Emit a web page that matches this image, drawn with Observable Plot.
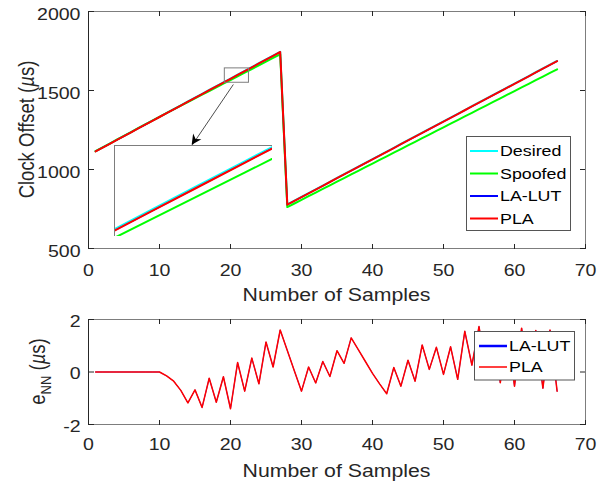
<!DOCTYPE html>
<html><head><meta charset="utf-8">
<script src="https://cdn.jsdelivr.net/npm/d3@7"></script>
<script src="https://cdn.jsdelivr.net/npm/@observablehq/plot@0.6"></script>
<style>
body{margin:0;background:#fff;}
#chart{position:relative;width:597px;height:483px;overflow:hidden;background:#fff;}
#chart svg{display:block;}
</style></head><body><div id="chart"></div>
<script>
// ---------- data ----------
const samples = [1,2,3,4,5,6,7,8,9,10,11,12,13,14,15,16,17,18,19,20,21,22,23,24,25,26,27,28,29,30,31,32,33,34,35,36,37,38,39,40,41,42,43,44,45,46,47,48,49,50,51,52,53,54,55,56,57,58,59,60,61,62,63,64,65,66];
const desired = [1116.0,1140.2,1164.4,1188.6,1212.8,1237.0,1261.2,1285.4,1309.6,1333.8,1358.0,1382.2,1406.4,1430.6,1454.8,1479.0,1503.2,1527.4,1551.6,1575.8,1600.0,1624.2,1648.4,1672.6,1696.8,1721.0,1745.2,
  779.0,802.9,826.8,850.7,874.6,898.5,922.4,946.3,970.2,994.1,1018.0,1041.9,1065.8,1089.7,1113.6,1137.5,1161.4,1185.3,1209.2,1233.1,1257.0,1280.9,1304.8,1328.7,1352.6,1376.5,1400.4,1424.3,1448.2,1472.1,1496.0,1519.9,1543.8,1567.7,1591.6,1615.5,1639.4,1663.3,1687.2];
const spoofed = [1116.0,1140.2,1164.4,1188.6,1212.8,1237.0,1261.2,1285.4,1309.6,1333.8,1357.0,1380.3,1403.6,1426.8,1450.1,1473.3,1496.6,1519.8,1543.1,1566.3,1589.6,1612.8,1636.1,1659.3,1682.6,1705.8,1729.1,
  761.9,784.9,807.8,830.8,853.7,876.7,899.6,922.6,945.5,968.5,991.4,1014.4,1037.3,1060.3,1083.2,1106.2,1129.1,1152.1,1175.0,1198.0,1220.9,1243.9,1266.8,1289.8,1312.7,1335.7,1358.6,1381.6,1404.5,1427.5,1450.4,1473.4,1496.3,1519.3,1542.2,1565.2,1588.1,1611.1,1634.0];
const laLut = [1114.5,1138.7,1162.9,1187.1,1211.3,1235.5,1259.7,1283.9,1308.1,1332.3,1356.5,1380.7,1404.9,1429.1,1453.3,1477.5,1501.7,1525.9,1550.1,1574.3,1598.5,1622.7,1646.9,1671.1,1695.3,1719.5,1743.7,
  777.5,801.4,825.3,849.2,873.1,897.0,920.9,944.8,968.7,992.6,1016.5,1040.4,1064.3,1088.2,1112.1,1136.0,1159.9,1183.8,1207.7,1231.6,1255.5,1279.4,1303.3,1327.2,1351.1,1375.0,1398.9,1422.8,1446.7,1470.6,1494.5,1518.4,1542.3,1566.2,1590.1,1614.0,1637.9,1661.8,1685.7];
const pla = [1114.5,1138.7,1162.9,1187.1,1211.3,1235.5,1259.7,1283.9,1308.1,1332.3,1356.5,1380.7,1404.9,1429.1,1453.3,1477.5,1501.7,1525.9,1550.1,1574.3,1598.5,1622.7,1646.9,1671.1,1695.3,1719.5,1743.7,
  777.5,801.4,825.3,849.2,873.1,897.0,920.9,944.8,968.7,992.6,1016.5,1040.4,1064.3,1088.2,1112.1,1136.0,1159.9,1183.8,1207.7,1231.6,1255.5,1279.4,1303.3,1327.2,1351.1,1375.0,1398.9,1422.8,1446.7,1470.6,1494.5,1518.4,1542.3,1566.2,1590.1,1614.0,1637.9,1661.8,1685.7];
const errLaLut = [0,0,0,0,0,0,0,0,0,0,-0.15,-0.35,-0.7,-1.18,-0.68,-1.35,-0.24,-1.15,-0.18,-1.4,0.36,-0.73,0.53,-0.45,1.14,0.19,1.6,0.82,0.04,-0.73,0.19,-0.42,0.4,-0.17,0.81,0.33,1.3,0.85,0.4,-0.05,-0.45,-0.83,0.17,-0.54,0.45,-0.35,1.03,0.1,0.94,-0.09,0.96,-0.28,1.55,0.26,1.73,0.1,1.5,-0.41,1.5,-0.54,1.67,-0.2,1.58,-0.62,1.6,-0.73];
const errPla = [0,0,0,0,0,0,0,0,0,0,-0.15,-0.35,-0.7,-1.18,-0.68,-1.35,-0.24,-1.15,-0.18,-1.4,0.36,-0.73,0.53,-0.45,1.14,0.19,1.6,0.82,0.04,-0.73,0.19,-0.42,0.4,-0.17,0.81,0.33,1.3,0.85,0.4,-0.05,-0.45,-0.83,0.17,-0.54,0.45,-0.35,1.03,0.1,0.94,-0.09,0.96,-0.28,1.55,0.26,1.73,0.1,1.5,-0.41,1.5,-0.54,1.67,-0.2,1.58,-0.62,1.6,-0.73];

const topSeries = ["Desired", "Spoofed", "LA-LUT", "PLA"];
const bottomSeries = ["LA-LUT", "PLA"];
const xTicks = [0, 10, 20, 30, 40, 50, 60, 70];
const yTicksTop = [500, 1000, 1500, 2000];
const yTicksBottom = [-2, 0, 2];
const xLabel = "Number of Samples";

// zoom annotation (data units)
const zoomX = [19.2, 22.6];
const zoomY = [1549, 1640];
const insetX = [3.66, 25.9];
const insetY = [576, 1154];
const arrowFrom = [20.4, 1538];
const arrowTo = [14.6, 1154];

// ---------- styles ----------
const FONT = "'Liberation Sans', Arial, Helvetica, sans-serif";
const INK = "#262626";
const BOX = "#7d7d7d";
const K = 1.15; // horizontal glyph stretch of the original bitmap
const colorOf = {"Desired": "#00ffff", "Spoofed": "#00ff00", "LA-LUT": "#0000ff", "PLA": "#ff0000"};
const topWidth = {"Desired": 2, "Spoofed": 2, "LA-LUT": 1.2, "PLA": 2};
const botWidth = {"LA-LUT": 0.8, "PLA": 1.5};

const topRows = [];
[[ "Desired", desired], ["Spoofed", spoofed], ["LA-LUT", laLut], ["PLA", pla]].forEach(([s, arr]) =>
  samples.forEach((x, i) => topRows.push({x, y: arr[i], s})));
const botRows = [];
[["LA-LUT", errLaLut], ["PLA", errPla]].forEach(([s, arr]) =>
  samples.forEach((x, i) => botRows.push({x, y: arr[i], s})));

const colorScale = {domain: topSeries, range: topSeries.map(s => colorOf[s])};
const fmt = d => String(d);
const none = () => "";

// MATLAB-style box: labels outside, short ticks pointing inward on all four sides
function axes(yTicks, xOff, yDy, fw, fh) {
  return [
    Plot.axisX(xTicks, {anchor: "bottom", tickSize: 0, tickPadding: xOff, tickFormat: fmt, label: null, fill: INK}),
    Plot.axisX(xTicks, {anchor: "top", tickSize: 5, dy: fh, tickFormat: none, label: null, stroke: INK}),
    Plot.axisX(xTicks, {anchor: "bottom", tickSize: 5, dy: -fh, tickFormat: none, label: null, stroke: INK}),
    Plot.axisY(yTicks, {anchor: "left", tickSize: 0, tickPadding: 8, dy: yDy, tickFormat: fmt, label: null, fill: INK}),
    Plot.axisY(yTicks, {anchor: "right", tickSize: 5, dx: -fw, tickFormat: none, label: null, stroke: INK}),
    Plot.axisY(yTicks, {anchor: "left", tickSize: 5, dx: fw, tickFormat: none, label: null, stroke: INK})
  ];
}

function seriesLines(rows, names, widths, extra = {}) {
  return names.map(n => Plot.line(rows.filter(r => r.s === n), {x: "x", y: "y", stroke: "s", strokeWidth: widths[n], ...extra}));
}

// ---------- top panel ----------
const topPlot = Plot.plot({
  width: 597, height: 305,
  marginLeft: 88, marginRight: 12, marginTop: 11, marginBottom: 57,
  style: {fontFamily: FONT, fontSize: "17px", color: INK, background: "white"},
  x: {domain: [0, 70]},
  y: {domain: [500, 2000]},
  color: colorScale,
  marks: [
    ...seriesLines(topRows, topSeries, topWidth),
    Plot.rect([{x1: insetX[0], x2: insetX[1], y1: insetY[0], y2: insetY[1]}], {x1: "x1", x2: "x2", y1: "y1", y2: "y2", fill: "white"}),
    Plot.rect([{x1: zoomX[0], x2: zoomX[1], y1: zoomY[0], y2: zoomY[1]}], {x1: "x1", x2: "x2", y1: "y1", y2: "y2", fill: "none", stroke: BOX, strokeWidth: 1}),
    Plot.link([{x1: arrowFrom[0], y1: arrowFrom[1], x2: arrowTo[0], y2: arrowTo[1]}], {x1: "x1", y1: "y1", x2: "x2", y2: "y2", stroke: "black", strokeWidth: 0.7}),
    Plot.frame({stroke: BOX}),
    Plot.ruleX([0], {stroke: INK}),
    ...axes(yTicksTop, 15, 3, 497, 237)
  ]
});

// ---------- bottom panel ----------
const botPlot = Plot.plot({
  width: 597, height: 178,
  marginLeft: 88, marginRight: 12, marginTop: 14, marginBottom: 59,
  style: {fontFamily: FONT, fontSize: "17px", color: INK, background: "white"},
  x: {domain: [0, 70]},
  y: {domain: [-2, 2]},
  color: colorScale,
  marks: [
    ...seriesLines(botRows, bottomSeries, botWidth),
    Plot.frame({stroke: BOX}),
    Plot.ruleX([0], {stroke: INK}),
    ...axes(yTicksBottom, 13, 2, 497, 105)
  ]
});

const chart = document.getElementById("chart");
chart.appendChild(topPlot);
chart.appendChild(botPlot);

// ---------- inset (zoomed view) ----------
const sx = topPlot.scale("x"), sy = topPlot.scale("y");
const ix0 = sx.apply(insetX[0]), ix1 = sx.apply(insetX[1]);
const iy0 = sy.apply(insetY[1]), iy1 = sy.apply(insetY[0]);
const inset = Plot.plot({
  width: Math.round(ix1 - ix0), height: Math.round(iy1 - iy0),
  margin: 0,
  style: {background: "transparent"},
  x: {domain: zoomX, axis: null},
  y: {domain: zoomY, axis: null},
  color: colorScale,
  marks: [
    ...seriesLines(topRows, topSeries, topWidth, {clip: true}),
    Plot.frame({stroke: BOX})
  ]
});
inset.style.position = "absolute";
inset.style.left = Math.round(ix0) + "px";
inset.style.top = Math.round(iy0) + "px";
chart.appendChild(inset);

// arrow head (filled, MATLAB style)
{
  const x1 = sx.apply(arrowFrom[0]), y1 = sy.apply(arrowFrom[1]);
  const x2 = sx.apply(arrowTo[0]), y2 = sy.apply(arrowTo[1]);
  const L = Math.hypot(x2 - x1, y2 - y1), ux = (x2 - x1) / L, uy = (y2 - y1) / L;
  const px = -uy, py = ux, len = 10, half = 5, notch = 7;
  const pts = [[x2, y2], [x2 - ux * len + px * half, y2 - uy * len + py * half],
    [x2 - ux * notch, y2 - uy * notch], [x2 - ux * len - px * half, y2 - uy * len - py * half]];
  d3.select(topPlot).append("path").attr("d", "M" + pts.map(p => p.join(",")).join("L") + "Z").attr("fill", "black");
}

// ---------- legends & labels ----------
function addLegend(svg, box, rows) {
  const g = d3.select(svg).append("g").attr("text-anchor", "start");
  g.append("rect").attr("x", box.x).attr("y", box.y).attr("width", box.w).attr("height", box.h)
    .attr("fill", "white").attr("stroke", "#555").attr("stroke-width", 1);
  rows.forEach((r, i) => {
    const y = box.firstY + i * box.step;
    g.append("line").attr("x1", box.lx1).attr("x2", box.lx2).attr("y1", y).attr("y2", y)
      .attr("stroke", colorOf[r.name]).attr("stroke-width", r.w);
    g.append("text").attr("transform", `translate(${box.tx},${y}) scale(${K},1)`).attr("dy", "0.35em")
      .attr("text-anchor", "start").attr("font-size", "15.5px").attr("fill", "black").attr("font-family", FONT).text(r.name);
  });
}
addLegend(topPlot, {x: 466.5, y: 136.5, w: 104, h: 94, lx1: 470, lx2: 498, tx: 500, firstY: 151, step: 22.5},
  topSeries.map(n => ({name: n, w: 2})));
addLegend(botPlot, {x: 474.5 , y: 331.5 - 305, w: 100, h: 48.5, lx1: 479, lx2: 507, tx: 509, firstY: 346 - 305, step: 21},
  [{name: "LA-LUT", w: 2.5}, {name: "PLA", w: 1.5}]);

function xTitle(svg, yBase) {
  d3.select(svg).append("text").attr("transform", `translate(${(88 + 585) / 2},${yBase}) scale(${K},1)`)
    .attr("text-anchor", "middle").attr("font-size", "18.5px").attr("fill", INK).attr("font-family", FONT).text(xLabel);
}
xTitle(topPlot, 248 + 53);
xTitle(botPlot, 424 - 305 + 53);

// y titles (rotated)
{
  const t = d3.select(topPlot).append("text")
    .attr("transform", `translate(34,${(11 + 248) / 2}) rotate(-90) scale(1,${K})`)
    .attr("text-anchor", "middle").attr("font-size", "18.5px").attr("fill", INK).attr("font-family", FONT);
  t.append("tspan").text("Clock Offset (");
  t.append("tspan").attr("font-style", "italic").text("µ");
  t.append("tspan").text("s)");
  const b = d3.select(botPlot).append("text")
    .attr("transform", `translate(45,${(14 + 119) / 2}) rotate(-90) scale(1,${K})`)
    .attr("text-anchor", "middle").attr("font-size", "18.5px").attr("fill", INK).attr("font-family", FONT);
  b.append("tspan").text("e");
  b.append("tspan").attr("font-size", "13px").attr("dy", "5").text("NN");
  b.append("tspan").attr("dy", "-5").text(" (");
  b.append("tspan").attr("font-style", "italic").text("µ");
  b.append("tspan").text("s)");
}

// stretch Plot's own tick labels horizontally (keep their x/y attributes untouched)
function stretchTicks(svg) {
  svg.querySelectorAll("g[aria-label$='tick label'] text").forEach(t => {
    const tr = t.getAttribute("transform") || "";
    t.setAttribute("transform", `${tr} scale(${K},1)`);
  });
}
stretchTicks(topPlot);
stretchTicks(botPlot);
</script>
</body></html>
